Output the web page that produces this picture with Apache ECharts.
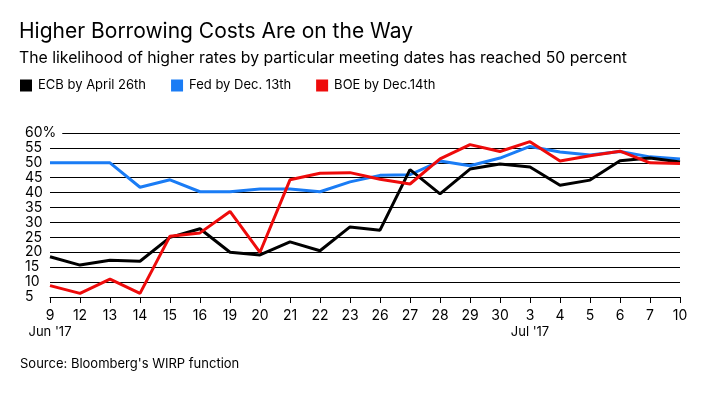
<!DOCTYPE html>
<html><head><meta charset="utf-8">
<script src="https://cdn.jsdelivr.net/npm/echarts@6/dist/echarts.min.js"></script>
<style>html,body{margin:0;padding:0;background:#fff}#c{width:720px;height:394px}</style>
</head><body><div id="c"></div>
<script>
var categories = ['9','12','13','14','15','16','19','20','21','22','23','26','27','28','29','30','3','4','5','6','7','10'];
var ecb = [18.5,15.7,17.3,17,25,27.9,20,19.1,23.5,20.5,28.5,27.4,47.7,39.6,47.9,49.6,48.6,42.5,44.2,50.7,51.6,50.3];
var fed = [50,50,50,41.8,44.3,40.3,40.3,41.2,41.2,40.3,43.6,45.8,46,50.6,49,51.6,55.5,53.6,52.6,53.8,52,51.3];
var boe = [8.8,6.2,11,6.2,25.4,26.5,33.7,20,44.3,46.5,46.7,44.5,42.9,51.3,56.1,53.8,57.1,50.6,52.4,53.9,50,49.8];
var monthLabels = {'0':"Jun '17", '16':"Jul '17"};
var FONT = 'Inter, Liberation Sans, Arial, sans-serif';
var chart = echarts.init(document.getElementById('c'));
chart.setOption({
  animation:false,
  textStyle:{fontFamily:FONT},
  title:[
    {text:'Higher Borrowing Costs Are on the Way', left:19, top:21, padding:0, textStyle:{fontSize:21, fontWeight:'normal', color:'#000', fontFamily:FONT}},
    {text:'The likelihood of higher rates by particular meeting dates has reached 50 percent', left:19, top:50, padding:0, textStyle:{fontSize:15.8, fontWeight:'normal', color:'#000', fontFamily:FONT}},
    {text:"Source: Bloomberg's WIRP function", left:20, top:358, padding:0, textStyle:{fontSize:13, fontWeight:'normal', color:'#000', fontFamily:FONT}}
  ],
  legend:{left:20, top:79, padding:0, itemWidth:12, itemHeight:12, itemGap:25, icon:'rect',
    textStyle:{fontSize:13, color:'#000', fontFamily:FONT, padding:[0,0,0,1]},
    data:['ECB by April 26th','Fed by Dec. 13th','BOE by Dec.14th']},
  grid:{left:50, right:40, top:133, bottom:97},
  xAxis:{type:'category', data:categories, boundaryGap:false,
    axisLine:{lineStyle:{color:'#000', width:1}},
    axisTick:{show:true, length:6, lineStyle:{color:'#000'}},
    axisLabel:{color:'#000', fontSize:14, margin:10, interval:0, lineHeight:17, fontFamily:FONT,
      formatter:function(v,i){ return monthLabels[i] ? v+'\n{m|'+monthLabels[i]+'}' : v; },
      rich:{m:{fontSize:13, color:'#000', fontFamily:FONT, lineHeight:17}}}
  },
  yAxis:{type:'value', min:5, max:60, interval:5,
    axisLine:{show:false}, axisTick:{show:false},
    splitLine:{lineStyle:{color:'#000', width:1}},
    axisLabel:{color:'#000', fontSize:14, align:'left', margin:25, fontFamily:FONT,
      formatter:function(v){ return v===60 ? '{a|60%}' : String(v); },
      rich:{a:{fontSize:14, color:'#000', fontFamily:FONT, backgroundColor:'#fff', padding:[0,6,0,0]}}}
  },
  series:[
    {name:'ECB by April 26th', type:'line', data:ecb, symbol:'none', color:'#000', lineStyle:{width:3, color:'#000'}, z:3},
    {name:'Fed by Dec. 13th', type:'line', data:fed, symbol:'none', color:'#1a7cf5', lineStyle:{width:3, color:'#1a7cf5'}, z:2},
    {name:'BOE by Dec.14th', type:'line', data:boe, symbol:'none', color:'#ee0b0b', lineStyle:{width:3, color:'#ee0b0b'}, z:4}
  ]
});
</script></body></html>
